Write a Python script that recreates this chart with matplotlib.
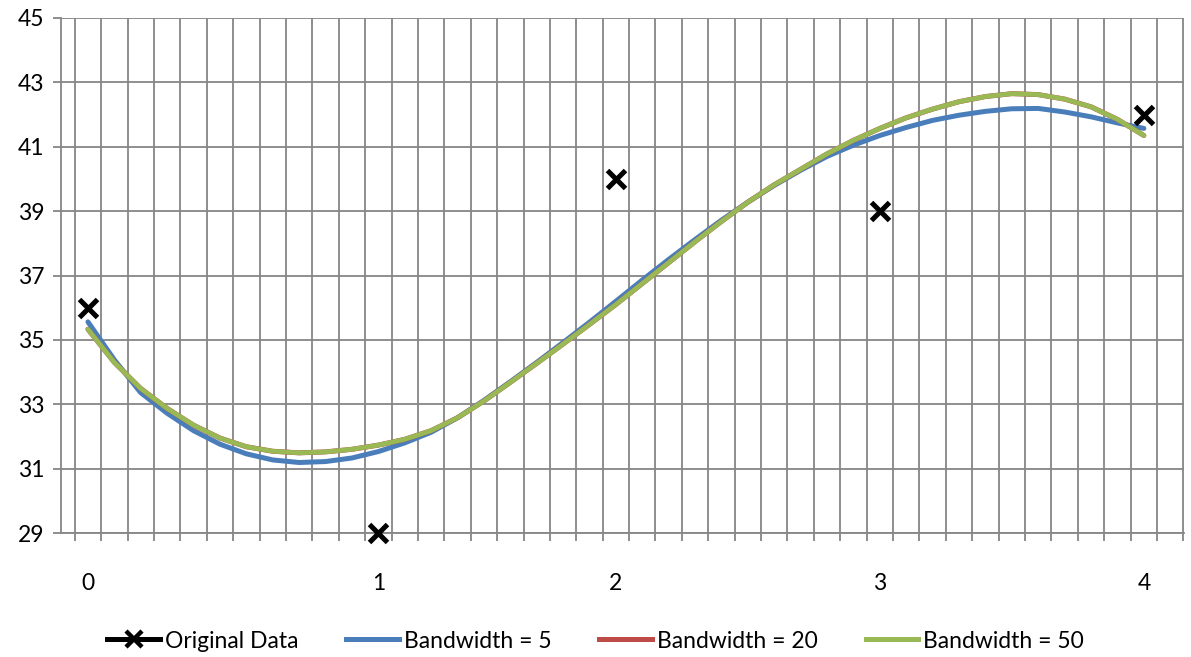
import numpy as np
import matplotlib
matplotlib.use('Agg')
import matplotlib.pyplot as plt
from matplotlib.lines import Line2D

plt.rcParams['font.family'] = ['Lato', 'DejaVu Sans']

# original data: category position on the axis, label and value
orig_pos = [0, 11, 20, 30, 40]
orig_labels = ['0', '1', '2', '3', '4']
orig_y = [36, 29, 40, 39, 42]

# smoothed curves, one value per category step (0..40)
curve_pos = list(range(41))
bw5 = [35.56, 34.38, 33.36, 32.72, 32.18, 31.76, 31.46, 31.27, 31.19, 31.22,
       31.33, 31.53, 31.80, 32.13, 32.58, 33.12, 33.70, 34.30, 34.92, 35.55,
       36.20, 36.86, 37.50, 38.12, 38.72, 39.28, 39.80, 40.27, 40.70, 41.05,
       41.35, 41.60, 41.82, 41.98, 42.10, 42.18, 42.19, 42.08, 41.93, 41.74,
       41.57]
bw20 = [35.33, 34.30, 33.49, 32.87, 32.35, 31.95, 31.68, 31.54, 31.49, 31.52,
        31.60, 31.73, 31.91, 32.18, 32.58, 33.10, 33.68, 34.27, 34.87, 35.48,
        36.10, 36.75, 37.40, 38.05, 38.68, 39.28, 39.82, 40.30, 40.78, 41.20,
        41.57, 41.90, 42.17, 42.40, 42.56, 42.65, 42.62, 42.48, 42.24, 41.85,
        41.35]
bw50 = [35.33, 34.30, 33.49, 32.87, 32.35, 31.95, 31.68, 31.54, 31.49, 31.52,
        31.60, 31.73, 31.91, 32.18, 32.58, 33.10, 33.68, 34.27, 34.87, 35.48,
        36.10, 36.75, 37.40, 38.05, 38.68, 39.28, 39.82, 40.30, 40.78, 41.20,
        41.57, 41.90, 42.17, 42.40, 42.56, 42.65, 42.62, 42.48, 42.24, 41.85,
        41.35]

grid_c = '#868686'
blue = '#4a7ebb'
red = '#be4b48'
green = '#98b954'

fig = plt.figure(figsize=(11.91, 6.57), dpi=100)
ax = fig.add_axes([61/1191., 1-533/657., (1184-61)/1191., (533-18)/657.])

ax.plot(curve_pos, bw5, color=blue, lw=3.6, solid_capstyle='round', zorder=3)
ax.plot(curve_pos, bw20, color=red, lw=3.6, solid_capstyle='round', zorder=3)
ax.plot(curve_pos, bw50, color=green, lw=3.4, solid_capstyle='round', zorder=4)
ax.plot(orig_pos, orig_y, linestyle='none', marker='x', color='black',
        markersize=13, markeredgewidth=3.6, clip_on=False, zorder=5)

ax.set_xlim(-1.02, 41.52)
ax.set_ylim(29, 45)

# vertical grid: one line per category boundary
ax.set_xticks(np.arange(-0.5, 42, 1.0))
ax.set_xticklabels([])
ax.set_xticks(orig_pos, minor=True)
ax.set_xticklabels(orig_labels, minor=True)
ax.tick_params(axis='x', which='major', length=6, width=1.3, color=grid_c,
               direction='out')
ax.tick_params(axis='x', which='minor', length=0, pad=29, labelsize=16.5)
ax.set_yticks(np.arange(29, 46, 2))
ax.tick_params(axis='y', length=6, width=1.3, color=grid_c, direction='out',
               labelsize=16.5, pad=6)
ax.grid(True, which='major', color=grid_c, lw=1.3, zorder=0)
ax.set_axisbelow(True)
for s in ['top', 'right']:
    ax.spines[s].set_visible(False)
for s in ['left', 'bottom']:
    ax.spines[s].set_color(grid_c)
    ax.spines[s].set_linewidth(1.3)

handles = [
    Line2D([], [], color='black', lw=3.6, marker='x', markersize=11, markeredgewidth=3.2),
    Line2D([], [], color=blue, lw=3.6),
    Line2D([], [], color=red, lw=3.6),
    Line2D([], [], color=green, lw=3.6),
]
labels = ['Original Data', 'Bandwidth = 5', 'Bandwidth = 20', 'Bandwidth = 50']
fig.legend(handles, labels, loc='center', bbox_to_anchor=(0.5, 1-641/657.),
           ncol=4, frameon=False, fontsize=16.5, handlelength=2.3,
           handletextpad=0.2, columnspacing=2.1)

fig.savefig('out.png', dpi=100)
